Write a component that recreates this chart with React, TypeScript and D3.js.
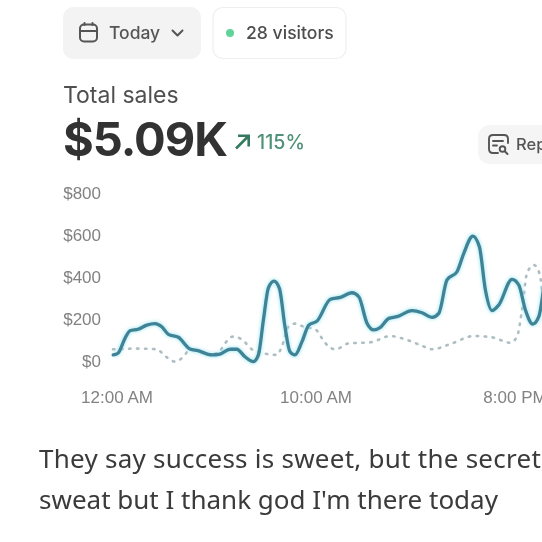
import React from "react";
import * as d3 from "d3";

const yTicks = [0, 200, 400, 600, 800];
const xTickHours = [0, 10, 20];
const xTickLabels = ["12:00 AM", "10:00 AM", "8:00 PM"];

const todayHours = [-0.19,0.05,0.4,0.65,1.05,1.49,1.9,2.24,2.57,3.07,3.65,4.05,4.74,5.15,5.65,5.99,6.4,6.82,7.07,7.32,7.57,7.85,8.12,8.4,8.65,8.9,9.25,9.59,10,10.67,11.17,11.75,12.09,12.5,12.84,13.17,13.59,14,14.75,15.25,15.75,16.09,16.5,17,17.34,17.79,18.12,18.42,18.75,19.09,19.75,20.09,20.42,20.79,21.09,21.35];
const todaySales = [29,37,108,144,151,171,178,163,127,113,57,49,29,33,56,56,20,-3,29,195,348,380,346,163,44,29,92,171,190,294,303,325,306,180,148,160,203,211,240,230,208,227,386,425,513,595,544,338,240,267,389,362,243,176,211,362];
const prevHours = [-0.2,0.99,1.99,2.4,2.9,3.32,3.65,4.05,4.65,5.15,5.4,5.79,6.24,6.74,7.32,7.99,8.24,8.57,8.9,9.34,9.92,10.25,10.59,10.92,11.59,12.67,13.67,14.25,15.17,15.75,16.75,17.84,18.75,19.67,20,20.25,20.5,20.84,21.12,21.35];
const prevSales = [56,59,56,24,-3,20,56,48,29,49,84,116,103,56,37,29,68,163,178,163,151,108,68,56,84,89,119,108,76,56,84,119,113,87,116,243,418,457,418,243];

const x = d3.scaleLinear().domain([0, 20]).range([117, 517]);
const y = d3.scaleLinear().domain([0, 800]).range([361, 193]);
const line = d3.line<[number, number]>().x(d => x(d[0])).y(d => y(d[1])).curve(d3.curveMonotoneX);
const mainPath = line(todayHours.map((h, i) => [h, todaySales[i]] as [number, number])) || "";
const prevPath = line(prevHours.map((h, i) => [h, prevSales[i]] as [number, number])) || "";

const ui = "Inter, 'Liberation Sans', sans-serif";
const tick = "'Liberation Sans', sans-serif";

export default function App() {
  return (
    <svg width={542} height={542} viewBox="0 0 542 542"
      style={{ position: "absolute", left: 0, top: 0, background: "#fff" }}>
      <defs>
        <filter id="soft" x="-5%" y="-5%" width="110%" height="110%">
          <feGaussianBlur stdDeviation="0.55" />
        </filter>
        <filter id="glow" x="-5%" y="-20%" width="110%" height="140%">
          <feGaussianBlur stdDeviation="1.8" />
        </filter>
      </defs>
      <g filter="url(#soft)">
        <rect x={63} y={7} width={138} height={52} rx={10} fill="#f3f3f3" />
        <rect x={213} y={7.5} width={133} height={51} rx={10} fill="#fff" stroke="#efefef" strokeWidth={1.2} />
        <g fill="none" stroke="#555" strokeWidth={2} strokeLinecap="round" strokeLinejoin="round">
          <rect x={80} y={24.5} width={17} height={17} rx={4} />
          <path d="M80 31H97M84.5 23V25M92.5 23V25" />
          <path d="M172.5 30.5L177.5 35.5L182.5 30.5" />
        </g>
        <text x={109} y={39} fontFamily={ui} fontSize={17.5} fontWeight={500} fill="#555">Today</text>
        <circle cx={230} cy={33} r={4} fill="#5fd49a" />
        <text x={246} y={39} fontFamily={ui} fontSize={17.6} fontWeight={500} fill="#4d4d4d">28 visitors</text>
        <text x={63} y={103} fontFamily={ui} fontSize={23} fill="#4f4f4f">Total sales</text>
        <text x={63} y={156} fontFamily={ui} fontSize={47} fontWeight={700} fill="#333" letterSpacing={-1}>$5.09K</text>
        <path d="M236 148.5L248 136.5M238 135.8H248.7V146.5" fill="none" stroke="#35795f" strokeWidth={2.6} />
        <text x={257} y={149} fontFamily={ui} fontSize={19.6} fontWeight={500} fill="#4f9078">115%</text>

        <rect x={478} y={125} width={90} height={39} rx={12} fill="#f5f5f5" />
        <g fill="none" stroke="#555" strokeWidth={1.9} strokeLinecap="round" strokeLinejoin="round">
          <path d="M508 143V139Q508 135 504 135H493Q489 135 489 139V149Q489 153 493 153H498" />
          <path d="M493 141H503M493 145.5H497" />
          <circle cx={502.5} cy={149} r={2.8} />
          <path d="M505 151.5L507.5 154" />
        </g>
        <text x={516} y={150} fontFamily={ui} fontSize={16.5} fontWeight={500} fill="#555">Rep</text>

        {yTicks.map(t => (
          <text key={t} x={101} y={y(t) + 6} textAnchor="end" fontFamily={tick} fontSize={17} fill="#828282">{`$${t}`}</text>
        ))}
        {xTickHours.map((h, i) => (
          <text key={h} x={x(h) - h * 0.1} y={403} textAnchor="middle" fontFamily={tick} fontSize={17} fill="#828282">{xTickLabels[i]}</text>
        ))}

        <path d={prevPath} fill="none" stroke="#aebfc3" strokeWidth={2.6} strokeDasharray="1.5 6.5" strokeLinecap="round" />
        <path d={mainPath} fill="none" stroke="#8fe3f0" strokeWidth={5.5} opacity={0.6} filter="url(#glow)" />
        <path d={mainPath} fill="none" stroke="#3f8397" strokeWidth={3.3} strokeLinejoin="round" strokeLinecap="round" />

        <text x={39} y={468} fontFamily="'Noto Sans', sans-serif" fontSize={26} fill="#3a3a3a" letterSpacing={0.25}>They say success is sweet, but the secret</text>
        <text x={39} y={509} fontFamily="'Noto Sans', sans-serif" fontSize={26} fill="#3a3a3a">sweat but I thank god I'm there today</text>
      </g>
    </svg>
  );
}
